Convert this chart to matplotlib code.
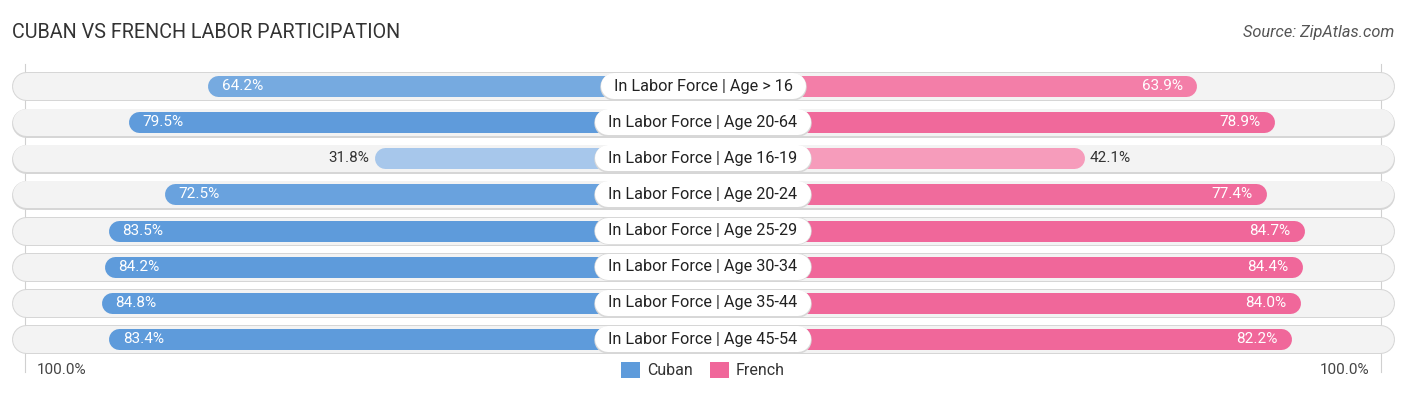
import matplotlib
matplotlib.use("Agg")
import matplotlib.pyplot as plt
from matplotlib.patches import Patch
import matplotlib.colors as mcolors
import numpy as np

categories = ["In Labor Force | Age > 16", "In Labor Force | Age 20-64",
              "In Labor Force | Age 16-19", "In Labor Force | Age 20-24",
              "In Labor Force | Age 25-29", "In Labor Force | Age 30-34",
              "In Labor Force | Age 35-44", "In Labor Force | Age 45-54"]
cuban = [64.2, 79.5, 31.8, 72.5, 83.5, 84.2, 84.8, 83.4]
french = [63.9, 78.9, 42.1, 77.4, 84.7, 84.4, 84.0, 82.2]

W, H, DPI = 1406, 395, 100
SCALE = 5.15        # pixels per percent
GAP = 32.0          # percent units hidden behind the centre label
ROW0, ROWSTEP = 86.0, 36.15

BLUE_LO, BLUE_HI = "#aac9ec", "#5e9bdb"
PINK_LO, PINK_HI = "#f8adc5", "#f0679a"


def blend(lo, hi, v):
    t = np.clip((v - 30.0) / 50.0, 0, 1)
    a, b = np.array(mcolors.to_rgb(lo)), np.array(mcolors.to_rgb(hi))
    return a + (b - a) * t


fig = plt.figure(figsize=(W / DPI, H / DPI), dpi=DPI)
ax = fig.add_axes([0, 0, 1, 1])
half = (W / 2) / SCALE
ax.set_xlim(-half, half)
ax.set_ylim(H / ROWSTEP - ROW0 / ROWSTEP, -ROW0 / ROWSTEP)  # y in row units
ax.axis("off")

px = 1.0 / SCALE  # one pixel in x units
pt = 72.0 / DPI   # one pixel in points
renderer = fig.canvas.get_renderer()

# thin 100% guide lines
full = GAP + 100
for xg in (-full + 1.5 * px, full - 1.5 * px):
    ax.plot([xg, xg], [-0.6, 7.9], color="#d0d0d0", lw=0.8, zorder=0)

track_l = -half + 12 * px + 14 * px
track_r = half - 12 * px - 14 * px
for i, (cat, c, f) in enumerate(zip(categories, cuban, french)):
    y = i
    # background track
    ax.plot([track_l, track_r], [y + 0.01, y + 0.01], color="#d6d6d6", lw=29 * pt,
            solid_capstyle="round", zorder=1)
    ax.plot([track_l, track_r], [y, y], color="#f3f3f3", lw=27 * pt,
            solid_capstyle="round", zorder=1.1)

    r = 10.5 * px
    cl = -(GAP + c)
    fr = GAP + f
    ax.plot([cl + r, 0], [y, y], color=blend(BLUE_LO, BLUE_HI, c), lw=21 * pt,
            solid_capstyle="round", zorder=2)
    ax.plot([0, fr - r], [y, y], color=blend(PINK_LO, PINK_HI, f), lw=21 * pt,
            solid_capstyle="round", zorder=2)

    # value labels
    if c > 50:
        ax.text(cl + 14 * px, y, f"{c}%", ha="left", va="center", color="white",
                fontsize=11, family="Roboto", zorder=3)
    else:
        ax.text(cl - 5 * px, y, f"{c}%", ha="right", va="center", color="#333333",
                fontsize=11, family="Roboto", zorder=3)
    if f > 50:
        ax.text(fr - 14 * px, y, f"{f}%", ha="right", va="center", color="white",
                fontsize=11, family="Roboto", zorder=3)
    else:
        ax.text(fr + 5 * px, y, f"{f}%", ha="left", va="center", color="#333333",
                fontsize=11, family="Roboto", zorder=3)

    # centre label on a white pill
    t = ax.text(0, y, cat, ha="center", va="center", fontsize=11.7, family="Roboto",
                color="#222222", zorder=6)
    tw = t.get_window_extent(renderer).width * px
    ax.plot([-tw / 2, tw / 2], [y + 0.02, y + 0.02], color="#d8d8d8", lw=27.5 * pt,
            solid_capstyle="round", zorder=4)
    ax.plot([-tw / 2, tw / 2], [y, y], color="white", lw=26 * pt,
            solid_capstyle="round", zorder=5)

# axis end labels
ax.text(-half + 37 * px, 7.85, "100.0%", ha="left", va="center", fontsize=11,
        family="Roboto", color="#444444")
ax.text(half - 37 * px, 7.85, "100.0%", ha="right", va="center", fontsize=11,
        family="Roboto", color="#444444")

handles = [Patch(facecolor=BLUE_HI, edgecolor="none", label="Cuban"),
           Patch(facecolor=PINK_HI, edgecolor="none", label="French")]
leg = ax.legend(handles=handles, loc="center", bbox_to_anchor=(0.5, 1 - 370 / H),
                ncol=2, frameon=False, handlelength=1.15, handleheight=1.15,
                handletextpad=0.45, columnspacing=1.1,
                prop={"family": "Roboto", "size": 11.5})
for tx in leg.get_texts():
    tx.set_color("#333333")

fig.text(12 / W, 1 - 33 / H, "CUBAN VS FRENCH LABOR PARTICIPATION", ha="left",
         va="center", fontsize=14.2, family="Roboto", color="#333333")
fig.text(1 - 12 / W, 1 - 33 / H, "Source: ZipAtlas.com", ha="right", va="center",
         fontsize=11.8, family="Roboto", style="italic", color="#555555")

fig.savefig("out.png", dpi=DPI)
